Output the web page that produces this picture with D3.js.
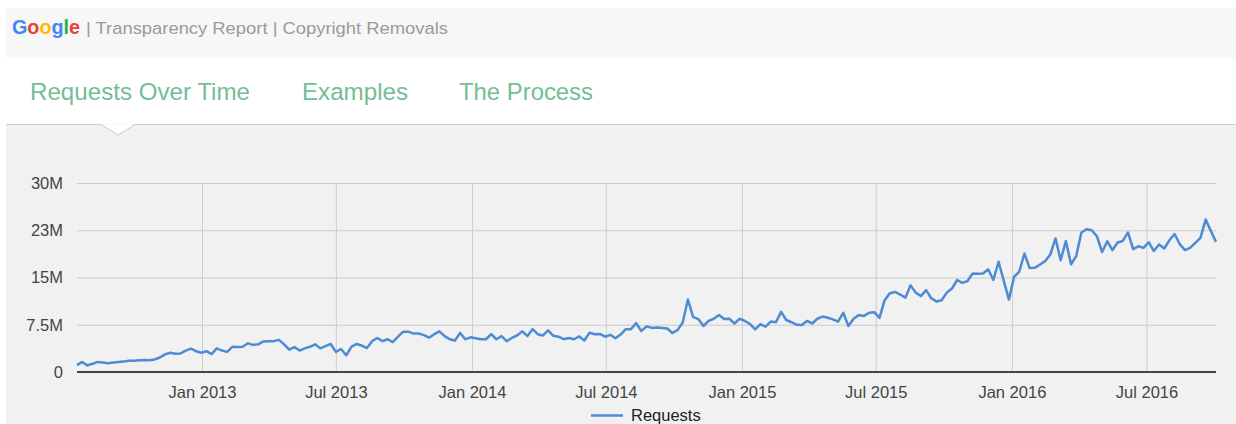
<!DOCTYPE html>
<html>
<head>
<meta charset="utf-8">
<script src="https://cdn.jsdelivr.net/npm/d3@7"></script>
<style>
  html, body { margin: 0; padding: 0; background: #ffffff; }
  svg { display: block; }
  text { font-family: "Liberation Sans", Arial, sans-serif; }
</style>
</head>
<body>
<svg id="chart" width="1236" height="424"></svg>
<script>
// ---- data (weekly copyright removal requests, millions) ----
const startDate = new Date(2012, 6, 16);
const requests = [
  1.1, 1.6, 1.05, 1.3, 1.6, 1.5, 1.4, 1.5, 1.6, 1.65,
  1.8, 1.8, 1.85, 1.9, 1.85, 2.0, 2.3, 2.8, 3.05, 2.9,
  2.95, 3.4, 3.7, 3.3, 3.05, 3.3, 2.85, 3.75, 3.4, 3.2,
  4.0, 3.95, 4.0, 4.55, 4.3, 4.4, 4.85, 4.9, 4.9, 5.1,
  4.4, 3.55, 3.95, 3.4, 3.75, 4.0, 4.4, 3.75, 4.1, 4.45,
  3.2, 3.65, 2.65, 4.0, 4.45, 4.2, 3.8, 4.9, 5.4, 4.9,
  5.2, 4.75, 5.6, 6.4, 6.4, 6.1, 6.1, 5.85, 5.45, 6.0,
  6.45, 5.7, 5.2, 5.0, 6.2, 5.2, 5.5, 5.35, 5.2, 5.2,
  6.0, 5.2, 5.7, 4.9, 5.4, 5.8, 6.45, 5.7, 6.8, 6.0,
  5.8, 6.6, 5.75, 5.6, 5.2, 5.4, 5.2, 5.65, 5.0, 6.25,
  6.0, 6.05, 5.6, 5.9, 5.35, 5.95, 6.8, 6.8, 7.75, 6.5,
  7.25, 7.0, 7.05, 7.0, 6.9, 6.2, 6.65, 7.85, 11.5, 8.75,
  8.4, 7.3, 8.1, 8.45, 9.05, 8.4, 8.45, 7.7, 8.45, 8.1,
  7.6, 6.75, 7.6, 7.2, 8.0, 7.9, 9.55, 8.25, 7.9, 7.5,
  7.45, 8.1, 7.7, 8.45, 8.8, 8.6, 8.35, 8.0, 9.4, 7.3,
  8.45, 9.05, 8.9, 9.4, 9.5, 8.6, 11.4, 12.5, 12.7, 12.3,
  11.8, 13.75, 12.6, 12.05, 13.0, 11.7, 11.2, 11.4, 12.6, 13.25,
  14.6, 14.15, 14.45, 15.65, 15.6, 15.65, 16.3, 14.6, 17.5, 14.5,
  11.5, 15.1, 15.95, 18.8, 16.5, 16.55, 17.05, 17.6, 18.65, 21.2,
  17.75, 20.8, 17.1, 18.4, 22.15, 22.65, 22.5, 21.55, 19.05, 20.75,
  19.35, 20.55, 20.8, 22.15, 19.5, 19.95, 19.7, 20.6, 19.2, 20.25,
  19.6, 20.9, 21.9, 20.3, 19.35, 19.7, 20.5, 21.3, 24.2, 22.4,
  20.65
];
const yTickValues = [0, 7.5, 15, 22.5, 30];
const yTickLabels = ["0", "7.5M", "15M", "23M", "30M"];
const seriesName = "Requests";
const tabs = ["Requests Over Time", "Examples", "The Process"];
const headerText = "| Transparency Report | Copyright Removals";
const logoLetters = ["G", "o", "o", "g", "l", "e"];
const logoColors = ["#4285F4", "#EA4335", "#FBBC05", "#4285F4", "#34A853", "#EA4335"];

// ---- build ----
(function () {
const dates = requests.map((v, i) => d3.timeDay.offset(startDate, i * 7));
const data = requests.map((v, i) => ({ date: dates[i], value: v }));

const svg = d3.select("#chart");
const W = 1236, H = 424;

// header band
svg.append("rect").attr("x", 6).attr("y", 8).attr("width", W - 6).attr("height", 50).attr("fill", "#f7f7f7");
// chart panel
svg.append("rect").attr("x", 6).attr("y", 124).attr("width", W - 6).attr("height", H - 124).attr("fill", "#f1f1f1");
// panel top border with caret
svg.append("path")
  .attr("d", `M6,124.5 H101 L118,135 L135,124.5 H${W}`)
  .attr("fill", "#ffffff").attr("stroke", "#cccccc").attr("stroke-width", 1);

// logo
const logo = svg.append("text").attr("x", 12).attr("y", 34)
  .attr("font-size", 20).attr("font-weight", "bold")
  .attr("textLength", 68).attr("lengthAdjust", "spacingAndGlyphs");
logo.selectAll("tspan").data(logoLetters).join("tspan")
  .attr("fill", (d, i) => logoColors[i]).text(d => d);

svg.append("text").attr("x", 86).attr("y", 34)
  .attr("font-size", 16).attr("fill", "#9a9a9a")
  .attr("textLength", 362).attr("lengthAdjust", "spacingAndGlyphs")
  .text(headerText);

// tabs
const tabX = [30, 302, 459];
const tabW = [220, 106, 134];
svg.selectAll(".tab").data(tabs).join("text")
  .attr("class", "tab")
  .attr("x", (d, i) => tabX[i]).attr("y", 100)
  .attr("font-family", "'Open Sans', sans-serif")
  .attr("font-weight", 300)
  .attr("font-size", 24.5).attr("fill", "#74bd95")
  .attr("textLength", (d, i) => tabW[i]).attr("lengthAdjust", "spacingAndGlyphs")
  .text(d => d);

// scales
const pl = 77, pr = 1216, pt = 183, pb = 372;
const x = d3.scaleTime().domain([dates[0], dates[dates.length - 1]]).range([pl, pr]);
const y = d3.scaleLinear().domain([0, 30]).range([pb, pt]);

// vertical gridlines + x labels
const xTicks = d3.timeMonth.every(6).range(d3.timeMonth.ceil(dates[0]), dates[dates.length - 1]);
const xAxis = d3.axisBottom(x).tickValues(xTicks).tickSize(-(pb - pt)).tickFormat(d3.timeFormat("%b %Y")).tickPadding(14);
const gx = svg.append("g").attr("transform", `translate(0,${pb})`).call(xAxis);
gx.select(".domain").remove();
gx.selectAll(".tick line").attr("stroke", "#cccccc");
gx.selectAll(".tick text").attr("font-size", 16.5).attr("fill", "#444").attr("font-family", "'Liberation Sans', Arial, sans-serif");

// horizontal gridlines + y labels
const yAxis = d3.axisLeft(y).tickValues(yTickValues).tickSize(-(pr - pl))
  .tickFormat((d, i) => yTickLabels[i]).tickPadding(14);
const gy = svg.append("g").attr("transform", `translate(${pl},0)`).call(yAxis);
gy.select(".domain").remove();
gy.selectAll(".tick line").attr("stroke", (d) => d === 0 ? "none" : "#cccccc");
gy.selectAll(".tick text").attr("font-size", 16.5).attr("fill", "#444").attr("font-family", "'Liberation Sans', Arial, sans-serif");

// baseline
svg.append("line").attr("x1", pl).attr("x2", pr).attr("y1", y(0)).attr("y2", y(0))
  .attr("stroke", "#444").attr("stroke-width", 2);

// series line
const line = d3.line().x(d => x(d.date)).y(d => y(d.value));
svg.append("path").datum(data).attr("d", line)
  .attr("fill", "none").attr("stroke", "#4d8bd4").attr("stroke-width", 2.5)
  .attr("stroke-linejoin", "round");

// legend
svg.append("line").attr("x1", 591).attr("x2", 623).attr("y1", 415.5).attr("y2", 415.5)
  .attr("stroke", "#4d8bd4").attr("stroke-width", 2.5);
svg.append("text").attr("x", 631).attr("y", 421).attr("font-size", 16.5).attr("fill", "#222").text(seriesName);
})();
</script>
</body>
</html>
